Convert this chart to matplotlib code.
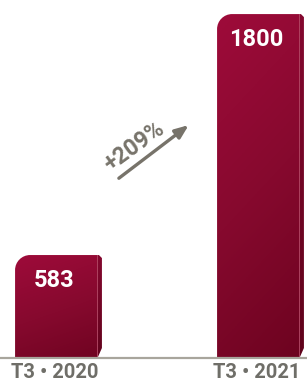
import numpy as np
import matplotlib.pyplot as plt
from matplotlib.path import Path
from matplotlib.patches import PathPatch, Polygon
from matplotlib.colors import LinearSegmentedColormap

plt.rcParams['font.family'] = ['Roboto', 'DejaVu Sans']

# data
periods = ['T3 • 2020', 'T3 • 2021']
values = [583, 1800]
growth_label = '+209%'

W, H = 307, 382
fig = plt.figure(figsize=(W / 100, H / 100), dpi=100)
ax = fig.add_axes([0, 0, 1, 1])
ax.set_axis_off()

# axis scaling (pixels per unit)
px_x = 202.0
px_y = 0.198
base_val = 63          # value sitting on the baseline
base_px = 24           # baseline height from bottom in pixels
x0_px = 58.5           # centre of first bar in pixels
ax.set_xlim(-x0_px / px_x, (W - x0_px) / px_x)
ax.set_ylim(base_val - base_px / px_y, base_val + (H - base_px) / px_y)

bar_w = 0.43
side_w = 0.022
bars = ax.bar(range(len(values)), values, width=bar_w, color='none')

face_cmap = LinearSegmentedColormap.from_list('face', ['#9e0b3a', '#86092e', '#6c031f'])
side_cmap = LinearSegmentedColormap.from_list('side', ['#84082f', '#5e021a'])

rx = 15 / px_x
ry = 15 / px_y
sx = 3 / px_x
sy = 3 / px_y
k = 0.45

for rect, v in zip(bars, values):
    xl = rect.get_x()
    xr = xl + rect.get_width() - side_w
    yb = rect.get_y()
    yt = yb + rect.get_height()
    # main face with rounded top-left corner
    verts = [(xl, yb), (xl, yt - ry), (xl, yt - ry * k), (xl + rx * k, yt), (xl + rx, yt),
             (xr, yt), (xr, yb), (xl, yb)]
    codes = [Path.MOVETO, Path.LINETO, Path.CURVE4, Path.CURVE4, Path.CURVE4,
             Path.LINETO, Path.LINETO, Path.CLOSEPOLY]
    face = PathPatch(Path(verts, codes), facecolor='none', edgecolor='none')
    ax.add_patch(face)
    yy, xx = np.mgrid[0:1:100j, 0:1:100j]
    grad = 0.8 * yy + 0.2 * xx
    im = ax.imshow(grad, cmap=face_cmap, extent=(xl, xr, yb, yt), aspect='auto',
                   interpolation='bilinear', zorder=2)
    im.set_clip_path(face)
    # side strip with chamfered bottom
    xs = xr + side_w
    side_verts = [(xr, yt), (xs - sx, yt), (xs, yt - sy), (xs, base_val + 10 / px_y),
                  (xr, base_val), (xr, yt)]
    side = Polygon(side_verts, closed=True, facecolor='none', edgecolor='none')
    ax.add_patch(side)
    im2 = ax.imshow(yy, cmap=side_cmap, extent=(xr, xs, yb, yt), aspect='auto',
                    interpolation='bilinear', zorder=2)
    im2.set_clip_path(side)
    ax.plot([xr, xr], [base_val, yt], color='#b0405e', lw=0.6, zorder=3)
    # value label
    ax.text((xl + xr) / 2 - 0.01, yt - 25 / px_y, str(v), color='white',
            fontsize=17, fontweight='bold', ha='center', va='center', zorder=5)

# hide anything below baseline
ax.axhspan(ax.get_ylim()[0], base_val, color='white', zorder=4)
ax.axhline(base_val, color='#a8a59c', lw=1.6, zorder=5)

for i, p in enumerate(periods):
    ax.text(i - 0.02, base_val - 15 / px_y, p, color='#6f6e68', fontsize=14.5,
            fontweight='bold', ha='center', va='center', zorder=6)

# growth arrow
ax.annotate('', xy=(0.622, 0.677), xytext=(0.38, 0.529), xycoords='axes fraction',
            arrowprops=dict(arrowstyle='-|>,head_length=0.8,head_width=0.32',
                            color='#77736a', lw=2.4), zorder=6)
ax.text(0.438, 0.617, growth_label, transform=ax.transAxes, rotation=36,
        color='#77736a', fontsize=16.5, fontweight='bold', ha='center', va='center',
        rotation_mode='anchor')

plt.savefig('out.png', dpi=100)
